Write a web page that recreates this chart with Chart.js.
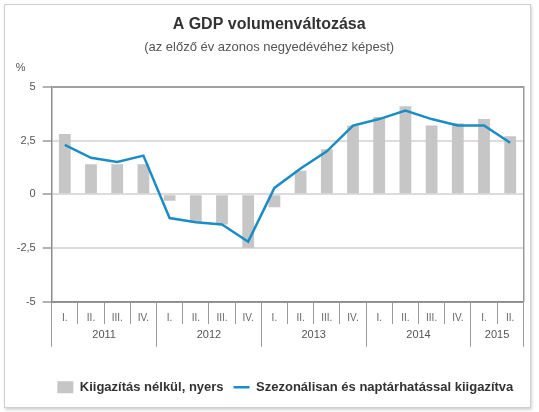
<!DOCTYPE html>
<html lang="hu">
<head>
<meta charset="utf-8">
<title>A GDP volumenváltozása</title>
<script src="https://cdn.jsdelivr.net/npm/chart.js@4.4.1/dist/chart.umd.min.js"></script>
<style>
  html, body { margin: 0; padding: 0; background: #fff; }
  #wrap { position: relative; width: 539px; height: 412px; }
  #frame {
    position: absolute; left: 4px; top: 4px; width: 525px; height: 402px;
    border: 1px solid #cfcfcf; box-shadow: 1px 2px 3px rgba(0,0,0,0.18);
  }
  canvas { position: absolute; left: 0; top: 0; }
</style>
</head>
<body>
<div id="wrap">
  <div id="frame"></div>
  <canvas id="gdp" width="539" height="412"></canvas>
</div>
<script>
// negyedevek es evek
const quarters = ["I.", "II.", "III.", "IV.", "I.", "II.", "III.", "IV.", "I.", "II.", "III.", "IV.",
  "I.", "II.", "III.", "IV.", "I.", "II."];
const years = ["2011", "2012", "2013", "2014", "2015"];
const quartersPerYear = [4, 4, 4, 4, 2];

// kiigazitas nelkul, nyers (%)
const rawValues = [2.8, 1.4, 1.4, 1.4, -0.3, -1.3, -1.4, -2.5, -0.6, 1.1, 2.1, 3.2,
  3.6, 4.1, 3.2, 3.3, 3.5, 2.7];
// szezonalisan es naptarhatassal kiigazitva (%)
const adjValues = [2.3, 1.7, 1.5, 1.8, -1.1, -1.3, -1.4, -2.2, 0.3, 1.2, 2.0, 3.2,
  3.5, 3.9, 3.5, 3.2, 3.2, 2.4];

const yTicks = [-5, -2.5, 0, 2.5, 5];

// evhatarok es evkozepek a masodik x tengelyhez (kategoria index szerint)
const yearBounds = [-0.5];
const yearMids = [];
quartersPerYear.forEach((n) => {
  const start = yearBounds[yearBounds.length - 1];
  yearMids.push(start + n / 2);
  yearBounds.push(start + n);
});

function huNum(v) {
  return String(v).replace(".", ",");
}

const percentLabel = {
  id: "percentLabel",
  afterDraw(chart) {
    const { ctx, chartArea } = chart;
    ctx.save();
    ctx.font = "11px 'Liberation Sans', Arial, sans-serif";
    ctx.fillStyle = "#555";
    ctx.textAlign = "center";
    ctx.textBaseline = "middle";
    ctx.fillText("%", chartArea.left - 31, chartArea.top - 19);
    ctx.restore();
  },
};

const ctx = document.getElementById("gdp").getContext("2d");

const myChart = new Chart(ctx, {
  type: "bar",
  data: {
    labels: quarters,
    datasets: [
      {
        type: "bar",
        label: "Kiigazítás nélkül, nyers",
        data: rawValues,
        backgroundColor: "#c6c6c6",
        borderWidth: 0,
        barPercentage: 0.45,
        categoryPercentage: 1,
        pointStyle: "rect",
        order: 2,
      },
      {
        type: "line",
        label: "Szezonálisan és naptárhatással kiigazítva",
        data: adjValues,
        borderColor: "#1b8dc6",
        backgroundColor: "#1b8dc6",
        borderWidth: 2.5,
        pointRadius: 0,
        pointStyle: "line",
        tension: 0,
        order: 1,
      },
    ],
  },
  options: {
    responsive: false,
    animation: false,
    devicePixelRatio: 1,
    layout: { padding: { left: 15, right: 15.7, top: 0, bottom: 8.2 } },
    plugins: {
      tooltip: { enabled: false },
      title: {
        display: true,
        text: "A GDP volumenváltozása",
        color: "#333",
        font: { family: "'Liberation Sans', Arial, sans-serif", size: 16, weight: "bold", lineHeight: 1.2 },
        padding: { top: 15, bottom: 4 },
      },
      subtitle: {
        display: true,
        text: "(az előző év azonos negyedévéhez képest)",
        color: "#555",
        font: { family: "'Liberation Sans', Arial, sans-serif", size: 13, lineHeight: 1.2 },
        padding: { top: 1, bottom: 32 },
      },
      legend: {
        position: "bottom",
        align: "end",
        labels: {
          usePointStyle: true,
          pointStyleWidth: 16,
          boxHeight: 12,
          padding: 10,
          color: "#333",
          font: { family: "'Liberation Sans', Arial, sans-serif", size: 13, weight: "bold", lineHeight: 1.2 },
          sort: (a, b) => a.datasetIndex - b.datasetIndex,
        },
      },
    },
    scales: {
      x: {
        type: "category",
        position: "bottom",
        weight: 0,
        offset: true,
        grid: {
          offset: true,
          drawOnChartArea: false,
          color: "#9a9a9a",
          tickLength: 22,
          lineWidth: 1,
        },
        border: { display: true, color: "#8c8c8c", width: 1.5 },
        ticks: {
          autoSkip: false,
          maxRotation: 0,
          padding: -11.6,
          color: "#666",
          font: { family: "'Liberation Sans', Arial, sans-serif", size: 10, lineHeight: 1.2 },
        },
        afterFit(scale) {
          scale.height = 22.4;
        },
      },
      x2: {
        type: "linear",
        position: "bottom",
        weight: 1,
        min: -0.5,
        max: 17.5,
        offset: false,
        afterBuildTicks(scale) {
          scale.ticks = yearBounds.concat(yearMids).sort((a, b) => a - b).map((v) => ({ value: v }));
        },
        grid: {
          offset: false,
          drawOnChartArea: false,
          tickLength: 22.5,
          lineWidth: 1,
          color: (c) => (c.tick && yearBounds.includes(c.tick.value) ? "#9a9a9a" : "rgba(0,0,0,0)"),
        },
        border: { display: false },
        ticks: {
          autoSkip: false,
          maxRotation: 0,
          padding: -18.8,
          color: "#555",
          font: { family: "'Liberation Sans', Arial, sans-serif", size: 11, lineHeight: 1.2 },
          callback(value) {
            const i = yearMids.indexOf(value);
            return i >= 0 ? years[i] : "";
          },
        },
        afterFit(scale) {
          scale.height = 46.5;
        },
      },
      y: {
        type: "linear",
        position: "left",
        min: -5,
        max: 5,
        afterBuildTicks(scale) {
          scale.ticks = yTicks.map((v) => ({ value: v }));
        },
        grid: {
          color: (c) => (c.tick && Math.abs(c.tick.value) === 5 ? "#a0a0a0" : "#dcdcdc"),
          lineWidth: 2,
          tickLength: 9,
          tickColor: "#9a9a9a",
          tickWidth: 1.5,
        },
        border: { display: true, color: "#8c8c8c", width: 1.5 },
        ticks: {
          padding: 7,
          color: "#555",
          font: { family: "'Liberation Sans', Arial, sans-serif", size: 11 },
          callback: (v) => huNum(v),
        },
        afterFit(scale) {
          scale.width = 36.7;
        },
      },
      y2: {
        type: "linear",
        position: "right",
        min: -5,
        max: 5,
        grid: { drawOnChartArea: false, drawTicks: false },
        border: { display: true, color: "#9a9a9a", width: 1.5 },
        ticks: { display: false },
        afterFit(scale) {
          scale.width = 0;
        },
      },
    },
  },
  plugins: [percentLabel],
});
</script>
</body>
</html>
